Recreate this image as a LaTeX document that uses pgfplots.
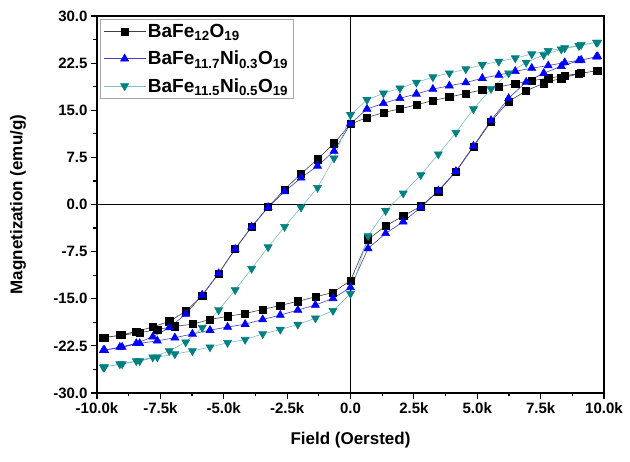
\documentclass[border=0pt]{standalone}
\usepackage{fontspec}
\setmainfont{Liberation Sans}
\usepackage{pgfplots}
\pgfplotsset{compat=1.18}
\usepackage{pgfplotstable}
\definecolor{cteal}{RGB}{0,128,128}
\definecolor{cblue}{RGB}{0,0,255}

\pgfplotstableread{
x y
9750 21.3
9100 20.9
8450 20.5
7800 20.1
7150 19.7
6500 19.26
5850 18.7
5200 18.25
4550 17.67
3900 17.1
3250 16.55
2600 15.86
1950 15.22
1300 14.63
650 13.84
0 12.8
-650 9.75
-1300 7.2
-1950 4.9
-2600 2.4
-3250 -0.4
-3900 -3.54
-4550 -7.04
-5200 -10.97
-5850 -14.5
-6500 -17.0
-7150 -18.6
-7800 -19.5
-8450 -20.2
-9100 -20.8
-9750 -21.2
-9700 -21.17
-9007 -20.8
-8314 -20.4
-7621 -19.9
-6928 -19.4
-6235 -19.05
-5542 -18.3
-4849 -17.8
-4156 -17.35
-3463 -16.7
-2770 -16.07
-2077 -15.4
-1384 -14.7
-691 -14.0
0 -12.1
693 -5.55
1386 -3.43
2079 -1.83
2772 -0.3
3465 2.1
4158 5.2
4851 9.2
5544 13.2
6237 16.4
6930 18.1
7623 19.3
8316 20.1
9009 20.8
9702 21.3
}\dataA

\pgfplotstableread{
x y
9750 23.56
9100 23.0
8450 22.6
7800 22.1
7150 21.7
6500 21.2
5850 20.6
5200 20.1
4550 19.4
3900 18.9
3250 18.36
2600 17.6
1950 16.9
1300 16.1
650 15.2
0 12.85
-650 8.5
-1300 6.14
-1950 4.25
-2600 2.05
-3250 -0.45
-3900 -3.54
-4550 -7.1
-5200 -10.97
-5850 -14.4
-6500 -17.45
-7150 -19.6
-7800 -21.07
-8450 -22.1
-9100 -22.7
-9750 -23.2
-9700 -23.2
-9007 -22.7
-8314 -22.1
-7621 -21.7
-6928 -21.2
-6235 -20.6
-5542 -20.0
-4849 -19.5
-4156 -19.05
-3463 -18.3
-2770 -17.6
-2077 -16.8
-1384 -16.0
-691 -14.95
0 -13.2
693 -7.0
1386 -4.6
2079 -2.74
2772 -0.45
3465 2.2
4158 5.3
4851 9.3
5544 13.4
6237 16.9
6930 19.5
7623 20.9
8316 22.0
9009 22.9
9702 23.5
}\dataB

\pgfplotstableread{
x y
9750 25.8
9100 25.43
8450 24.9
7800 24.47
7150 23.94
6500 23.3
5850 22.76
5200 22.24
4550 21.55
3900 20.9
3250 20.28
2600 19.42
1950 18.5
1300 17.7
650 16.66
0 14.27
-650 7.36
-1300 2.68
-1950 -0.45
-2600 -3.54
-3250 -6.78
-3900 -10.2
-4550 -13.6
-5200 -16.8
-5850 -19.6
-6500 -21.9
-7150 -23.3
-7800 -24.3
-8450 -24.9
-9100 -25.4
-9750 -25.9
-9700 -25.85
-9007 -25.4
-8314 -24.9
-7621 -24.3
-6928 -23.8
-6235 -23.3
-5542 -22.7
-4849 -22.0
-4156 -21.5
-3463 -20.6
-2770 -19.9
-2077 -19.1
-1384 -18.1
-691 -16.9
0 -14.2
693 -5.0
1386 -1.0
2079 1.78
2772 4.7
3465 8.0
4158 11.45
4851 15.2
5544 18.4
6237 20.9
6930 22.6
7623 23.8
8316 24.7
9009 25.25
9702 25.8
}\dataC

\begin{document}
\begin{tikzpicture}
\useasboundingbox (-97pt,-69pt) rectangle (533pt,393pt);
\begin{axis}[
  scale only axis,
  width=507pt, height=377pt,
  xmin=-10000, xmax=10000,
  ymin=-30, ymax=30,
  scaled x ticks=false,
  axis line style={line width=1.6pt},
  tick pos=left,
  tick align=outside,
  major tick length=6pt,
  minor tick length=3.5pt,
  every tick/.style={black, line width=1.2pt},
  minor tick num=1,
  xtick={-10000,-7500,-5000,-2500,0,2500,5000,7500,10000},
  xticklabels={-10.0k,-7.5k,-5.0k,-2.5k,0.0,2.5k,5.0k,7.5k,10.0k},
  ytick={-30,-22.5,-15,-7.5,0,7.5,15,22.5,30},
  yticklabels={-30.0,-22.5,-15.0,-7.5,0.0,7.5,15.0,22.5,30.0},
  tick label style={font=\bfseries\fontsize{15}{17}\selectfont},
  extra x ticks={0},
  extra x tick labels={},
  extra y ticks={0},
  extra y tick labels={},
  extra tick style={grid=major, major grid style={black, line width=1.8pt}, major tick length=0pt},
  xlabel={Field (Oersted)},
  ylabel={Magnetization (emu/g)},
  label style={font=\bfseries\fontsize{17}{19}\selectfont},
  xlabel style={at={(axis description cs:0.5,-0.1247)}, anchor=center},
  ylabel style={at={(axis description cs:-0.156,0.5)}, anchor=center},
  legend style={at={(0.006,0.992)}, anchor=north west, draw=gray!70, line width=0.6pt,
    font=\bfseries\fontsize{19}{21}\selectfont, row sep=8pt, inner sep=3pt},
  legend cell align=left,
  legend image code/.code={
    \draw[#1, mark repeat=2, mark phase=2] plot coordinates {(0pt,0pt) (21pt,0pt) (42pt,0pt)};
  },
]
\addplot[color=black!75, line width=0.6pt, mark=square*, mark size=3.6pt,
  mark options={solid, fill=black, draw=black}] table[x=x,y=y] {\dataA};
\addlegendentry{BaFe\textsubscript{12}O\textsubscript{19}}
\addplot[color=cblue!50!gray, line width=0.6pt, mark=triangle*, mark size=4.6pt,
  mark options={solid, fill=cblue, draw=cblue}] table[x=x,y=y] {\dataB};
\addlegendentry{BaFe\textsubscript{11.7}Ni\textsubscript{0.3}O\textsubscript{19}}
\addplot[color=cteal!50, line width=0.6pt, mark=triangle*, mark size=4.6pt,
  mark options={solid, rotate=180, fill=cteal, draw=cteal}] table[x=x,y=y] {\dataC};
\addlegendentry{BaFe\textsubscript{11.5}Ni\textsubscript{0.5}O\textsubscript{19}}
\end{axis}
\end{tikzpicture}
\end{document}
